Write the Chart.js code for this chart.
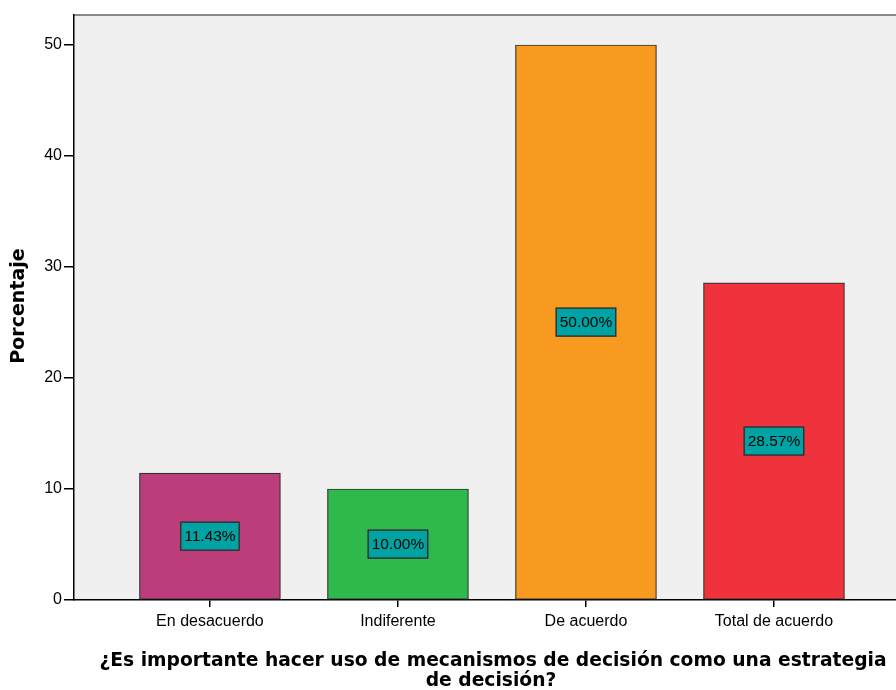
<!DOCTYPE html>
<html>
<head>
<meta charset="utf-8">
<script src="https://cdn.jsdelivr.net/npm/chart.js@4"></script>
<style>
  html, body { margin: 0; padding: 0; background: #ffffff; }
  #wrap { width: 896px; height: 690px; position: relative; }
</style>
</head>
<body>
<div id="wrap"><canvas id="barChart" width="896" height="690"></canvas></div>
<script>
const categories = ['En desacuerdo', 'Indiferente', 'De acuerdo', 'Total de acuerdo'];
const percentages = [11.43, 10.00, 50.00, 28.57];
const barColors = ['#bb3e7b', '#2fb84c', '#f89a1f', '#ef323b'];
const yTicks = [0, 10, 20, 30, 40, 50];
const xTitleLines = ['¿Es importante hacer uso de mecanismos de decisión como una estrategia', 'de decisión?'];
const yTitle = 'Porcentaje';

// plot background + grey top border
const plotBackground = {
    id: 'plotBackground',
    beforeDraw(chart) {
        const { ctx, chartArea } = chart;
        ctx.save();
        ctx.fillStyle = '#f0f0f0';
        ctx.fillRect(chartArea.left, chartArea.top, chartArea.right - chartArea.left, chartArea.bottom - chartArea.top);
        ctx.strokeStyle = '#888888';
        ctx.lineWidth = 2;
        ctx.beginPath();
        ctx.moveTo(chartArea.left, chartArea.top);
        ctx.lineTo(chartArea.right, chartArea.top);
        ctx.stroke();
        ctx.restore();
    }
};

// teal value boxes in the middle of each bar
const valueBoxes = {
    id: 'valueBoxes',
    afterDatasetsDraw(chart) {
        const { ctx } = chart;
        const meta = chart.getDatasetMeta(0);
        ctx.save();
        ctx.font = '15.5px "Liberation Sans", Arial, sans-serif';
        ctx.textAlign = 'center';
        ctx.textBaseline = 'middle';
        meta.data.forEach((bar, i) => {
            const text = percentages[i].toFixed(2) + '%';
            const cy = (bar.y + bar.base) / 2;
            const w = ctx.measureText(text).width + 7;
            const h = 28;
            ctx.fillStyle = '#00a3a3';
            ctx.fillRect(bar.x - w / 2, cy - h / 2, w, h);
            ctx.strokeStyle = '#333333';
            ctx.lineWidth = 1.5;
            ctx.strokeRect(bar.x - w / 2, cy - h / 2, w, h);
            ctx.fillStyle = '#000000';
            ctx.fillText(text, bar.x, cy + 1);
        });
        ctx.restore();
    }
};

// axis titles
const axisTitles = {
    id: 'axisTitles',
    afterDraw(chart) {
        const { ctx } = chart;
        ctx.save();
        ctx.fillStyle = '#000000';
        ctx.font = 'bold 18.7px "DejaVu Sans", sans-serif';
        ctx.textAlign = 'center';
        ctx.textBaseline = 'middle';
        ctx.fillText(xTitleLines[0], 493, 661);
        ctx.fillText(xTitleLines[1], 491, 681);
        ctx.translate(19, 306);
        ctx.rotate(-Math.PI / 2);
        ctx.font = 'bold 19px "DejaVu Sans", sans-serif';
        ctx.fillText(yTitle, 0, 0);
        ctx.restore();
    }
};

new Chart(document.getElementById('barChart'), {
    type: 'bar',
    data: {
        datasets: [{
            data: percentages.map((v, i) => ({ x: i, y: v })),
            backgroundColor: barColors,
            borderColor: '#333333',
            borderWidth: 1.2,
            borderSkipped: false,
            barThickness: 141
        }]
    },
    options: {
        responsive: false,
        animation: false,
        layout: { padding: { top: 15, right: 0, left: 0, bottom: 0 } },
        plugins: {
            legend: { display: false },
            tooltip: { enabled: false }
        },
        scales: {
            x: {
                type: 'linear',
                offset: false,
                min: -0.723,
                max: 3.649,
                afterBuildTicks(scale) {
                    scale.ticks = categories.map((c, i) => ({ value: i }));
                },
                afterFit(scale) { scale.height = 90; },
                ticks: {
                    callback: (v) => categories[v] || '',
                    color: '#000000',
                    font: { family: '"Liberation Sans", Arial, sans-serif', size: 16 },
                    padding: 5,
                    maxRotation: 0
                },
                grid: { offset: false, drawOnChartArea: false, drawTicks: true, tickLength: 7, color: '#000000', lineWidth: 1.5 },
                border: { display: true, color: '#000000', width: 1.5 }
            },
            y: {
                min: 0,
                max: 52.7,
                afterBuildTicks(scale) {
                    scale.ticks = yTicks.map(v => ({ value: v }));
                },
                afterFit(scale) { scale.width = 74; },
                ticks: {
                    color: '#000000',
                    font: { family: '"Liberation Sans", Arial, sans-serif', size: 16 },
                    padding: 2
                },
                grid: { drawOnChartArea: false, drawTicks: true, tickLength: 10, color: '#000000', lineWidth: 1.5 },
                border: { display: true, color: '#000000', width: 1.5 }
            }
        }
    },
    plugins: [plotBackground, valueBoxes, axisTitles]
});
</script>
</body>
</html>
